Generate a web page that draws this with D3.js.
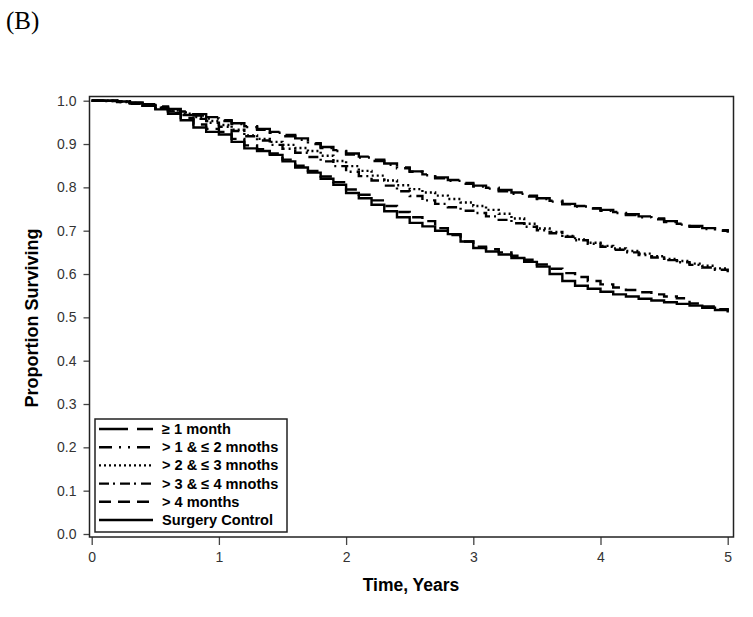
<!DOCTYPE html>
<html>
<head>
<meta charset="utf-8">
<script src="https://cdn.jsdelivr.net/npm/d3@7"></script>
<style>
  body { margin: 0; background: #fff; }
  svg { display: block; }
  .tick text { font-family: "Liberation Sans Narrow", "Liberation Sans", Arial, sans-serif; font-size: 14px; fill: #333; }
  .tick line { stroke: #444; stroke-width: 1.3px; }
</style>
</head>
<body>
<svg id="chart"></svg>
<script>
// time grid (years) and survival estimates
const times = [0,0.1,0.2,0.3,0.4,0.5,0.6,0.7,0.8,0.9,1,1.1,1.2,1.3,1.4,1.5,1.6,1.7,1.8,1.9,2,2.1,2.2,2.3,2.4,2.5,2.6,2.7,2.8,2.9,3,3.1,3.2,3.3,3.4,3.5,3.6,3.7,3.8,3.9,4,4.1,4.2,4.3,4.4,4.5,4.6,4.7,4.8,4.9,5];

const ge1Month = [1.000,1.000,0.999,0.996,0.992,0.987,0.981,0.975,0.969,0.962,0.955,0.948,0.941,0.935,0.928,0.921,0.913,0.902,0.893,0.886,0.878,0.871,0.864,0.855,0.846,0.837,0.830,0.823,0.817,0.810,0.804,0.799,0.794,0.788,0.781,0.775,0.769,0.762,0.757,0.752,0.748,0.743,0.738,0.733,0.728,0.722,0.716,0.711,0.706,0.701,0.697];
const m1to2 = [1.000,0.999,0.997,0.994,0.990,0.985,0.979,0.973,0.966,0.959,0.953,0.946,0.939,0.933,0.926,0.918,0.910,0.900,0.891,0.884,0.876,0.869,0.861,0.852,0.844,0.836,0.828,0.821,0.815,0.808,0.802,0.797,0.791,0.785,0.779,0.773,0.767,0.761,0.756,0.751,0.746,0.741,0.736,0.731,0.726,0.720,0.714,0.709,0.704,0.700,0.695];
const m2to3 = [1.000,1.000,0.998,0.995,0.990,0.984,0.977,0.970,0.962,0.953,0.944,0.933,0.920,0.912,0.905,0.898,0.891,0.884,0.873,0.861,0.849,0.838,0.827,0.816,0.805,0.796,0.788,0.781,0.773,0.765,0.757,0.748,0.739,0.728,0.716,0.705,0.697,0.688,0.680,0.672,0.665,0.659,0.653,0.647,0.641,0.635,0.630,0.624,0.619,0.613,0.608];
const m3to4 = [1.000,0.999,0.997,0.993,0.988,0.982,0.975,0.967,0.958,0.949,0.940,0.930,0.918,0.908,0.898,0.889,0.880,0.870,0.860,0.849,0.836,0.826,0.816,0.804,0.791,0.780,0.770,0.762,0.754,0.746,0.741,0.733,0.725,0.717,0.709,0.701,0.694,0.686,0.678,0.670,0.663,0.656,0.650,0.644,0.638,0.632,0.627,0.621,0.615,0.610,0.604];
const gt4Months = [1.000,1.000,0.998,0.995,0.989,0.982,0.972,0.960,0.945,0.935,0.928,0.912,0.897,0.888,0.878,0.864,0.850,0.838,0.825,0.812,0.795,0.783,0.770,0.757,0.743,0.731,0.722,0.706,0.690,0.675,0.663,0.657,0.650,0.642,0.633,0.622,0.612,0.602,0.593,0.584,0.576,0.569,0.563,0.558,0.553,0.548,0.544,0.532,0.525,0.519,0.514];
const surgeryControl = [1.000,1.000,0.998,0.994,0.988,0.980,0.970,0.955,0.938,0.928,0.922,0.905,0.890,0.884,0.875,0.860,0.846,0.834,0.820,0.806,0.787,0.775,0.760,0.745,0.731,0.718,0.710,0.700,0.692,0.675,0.660,0.652,0.645,0.637,0.628,0.617,0.600,0.584,0.573,0.566,0.559,0.553,0.548,0.543,0.539,0.535,0.531,0.527,0.522,0.517,0.511];

const seriesNames = ["\u2265 1 month", "> 1 & \u2264 2 mnoths", "> 2 & \u2264 3 mnoths", "> 3 & \u2264 4 mnoths", "> 4 months", "Surgery Control"];
const seriesValues = [ge1Month, m1to2, m2to3, m3to4, gt4Months, surgeryControl];
const dashes = ["29,9", "13,7,2,7,2,7", "2,3", "10,4,2,5", "12,7", null];

const xTicks = [0, 1, 2, 3, 4, 5];
const yTicks = [0, 0.1, 0.2, 0.3, 0.4, 0.5, 0.6, 0.7, 0.8, 0.9, 1.0];

// layout
const totalWidth = 753;
const totalHeight = 617;
const frame = { left: 89.5, right: 733.5, top: 96.5, bottom: 537 };

const svg = d3.select("#chart")
  .attr("width", totalWidth)
  .attr("height", totalHeight);

const xScale = d3.scaleLinear().domain([0, 5]).range([91.7, 727.7]);
const yScale = d3.scaleLinear().domain([0, 1]).range([534, 100.7]);

// panel label
svg.append("text")
  .attr("x", 6)
  .attr("y", 29)
  .style("font-family", "'Liberation Serif', 'Times New Roman', serif")
  .style("font-size", "25px")
  .text("(B)");

// axes
const yAxis = svg.append("g")
  .attr("transform", "translate(" + frame.left + ",0)")
  .call(d3.axisLeft(yScale).tickValues(yTicks).tickSize(6).tickPadding(7).tickFormat(d3.format(".1f")));
yAxis.select(".domain").remove();

const xAxis = svg.append("g")
  .attr("transform", "translate(0," + frame.bottom + ")")
  .call(d3.axisBottom(xScale).tickValues(xTicks).tickSize(8).tickPadding(7).tickFormat(d3.format("d")));
xAxis.select(".domain").remove();

// frame
svg.append("rect")
  .attr("x", frame.left)
  .attr("y", frame.top)
  .attr("width", frame.right - frame.left)
  .attr("height", frame.bottom - frame.top)
  .attr("fill", "none")
  .attr("stroke", "#222")
  .attr("stroke-width", 1.5);

// curves
const lineFunction = d3.line()
  .x((d) => xScale(d.t))
  .y((d) => yScale(d.s))
  .curve(d3.curveStepAfter);

const curves = svg.append("g").attr("class", "curves");
seriesValues.forEach((vals, i) => {
  const pts = times.map((t, j) => ({ t: t, s: vals[j] }));
  curves.append("path")
    .attr("d", lineFunction(pts))
    .attr("fill", "none")
    .attr("stroke", "#000")
    .attr("stroke-width", 2.4)
    .attr("stroke-dasharray", dashes[i]);
});

// axis titles
svg.append("text")
  .attr("transform", "translate(38,318) rotate(-90)")
  .attr("text-anchor", "middle")
  .style("font-family", "'Liberation Sans', Arial, sans-serif")
  .style("font-weight", "bold")
  .style("font-size", "18px")
  .text("Proportion Surviving");

svg.append("text")
  .attr("x", 411)
  .attr("y", 591)
  .attr("text-anchor", "middle")
  .style("font-family", "'Liberation Sans', Arial, sans-serif")
  .style("font-weight", "bold")
  .style("font-size", "17.5px")
  .text("Time, Years");

// legend
const legend = svg.append("g").attr("class", "legend");
legend.append("rect")
  .attr("x", 95)
  .attr("y", 419)
  .attr("width", 192)
  .attr("height", 113)
  .attr("fill", "#fff")
  .attr("stroke", "#222")
  .attr("stroke-width", 1.5);

seriesNames.forEach((name, i) => {
  const cy = 429 + i * 18.2;
  legend.append("line")
    .attr("x1", 99)
    .attr("x2", 153)
    .attr("y1", cy)
    .attr("y2", cy)
    .attr("stroke", "#000")
    .attr("stroke-width", 2.4)
    .attr("stroke-dasharray", dashes[i]);
  legend.append("text")
    .attr("x", 162)
    .attr("y", cy + 5)
    .style("font-family", "'Liberation Sans', Arial, sans-serif")
    .style("font-weight", "bold")
    .style("font-size", "14.6px")
    .text(name);
});
</script>
</body>
</html>
